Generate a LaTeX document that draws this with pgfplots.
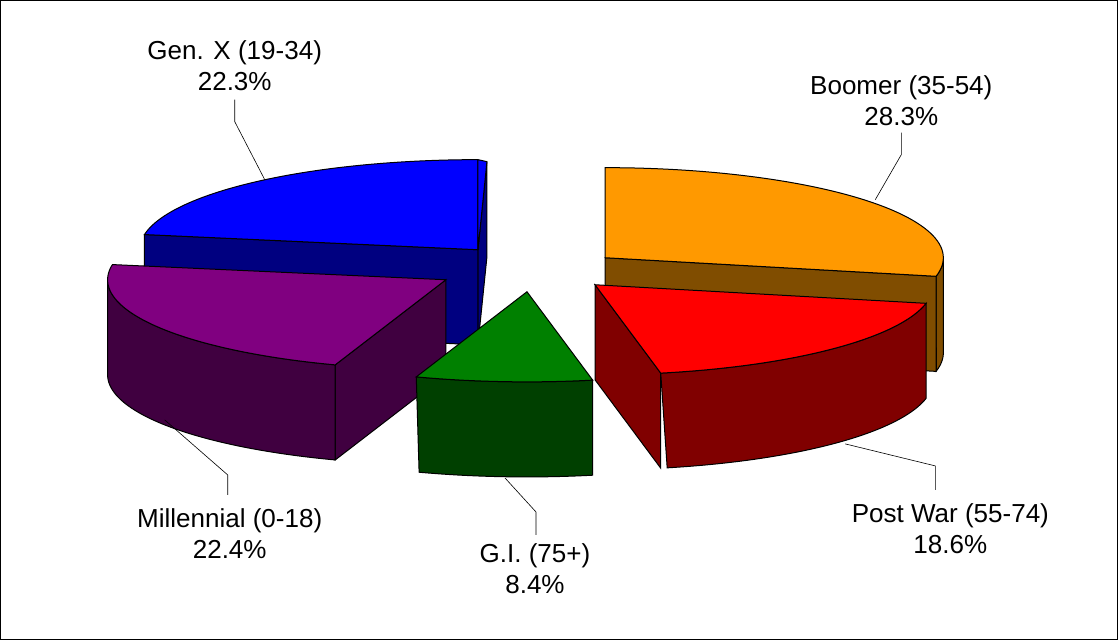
\documentclass[border=0pt]{standalone}
\usepackage{pgfplots}
\pgfplotsset{compat=1.18}
\usepackage{fontspec}
\setmainfont{Liberation Sans}
\definecolor{gxT}{RGB}{0,0,255}\definecolor{gxS}{RGB}{0,0,128}
\definecolor{boT}{RGB}{255,153,0}\definecolor{boS}{RGB}{128,77,0}
\definecolor{pwT}{RGB}{255,0,0}\definecolor{pwS}{RGB}{128,0,0}
\definecolor{giT}{RGB}{0,128,0}\definecolor{giS}{RGB}{0,64,0}
\definecolor{miT}{RGB}{128,0,128}\definecolor{miS}{RGB}{64,0,64}
\def\RX{338}\def\RY{90}\def\DD{95}
\newcommand\rwall[4]{%
 \pgfmathsetmacro\px{#1+\RX*sin(#3)}\pgfmathsetmacro\py{#2-\RY*cos(#3)}%
 \pgfmathsetmacro\pyd{\py+\DD}\pgfmathsetmacro\ayd{#2+\DD}%
 \edef\doit{\noexpand\addplot[fill=#4,draw=black,line width=1pt] coordinates {(#1,#2) (\px,\py) (\px,\pyd) (#1,\ayd)} -- cycle;}\doit}
\newcommand\owall[5]{%
 \edef\doit{\noexpand\addplot[fill=#5,draw=black,line width=1pt,domain=0:2,samples=121,variable=\noexpand\t]
 ({#1+\RX*sin(ifthenelse(\noexpand\t<=1,#3+(#4-#3)*\noexpand\t,#4-(#4-#3)*(\noexpand\t-1)))},
  {#2-\RY*cos(ifthenelse(\noexpand\t<=1,#3+(#4-#3)*\noexpand\t,#4-(#4-#3)*(\noexpand\t-1)))+ifthenelse(\noexpand\t<=1,0,\DD)}) -- cycle;}\doit}
\newcommand\topf[5]{%
 \edef\doit{\noexpand\addplot[fill=#5,draw=black,line width=1pt,domain=#3:#4,samples=60,variable=\noexpand\t]
 ({#1+\RX*sin(\noexpand\t)},{#2-\RY*cos(\noexpand\t)}) -- (axis cs:#1,#2) -- cycle;}\doit}
\begin{document}
\begin{tikzpicture}
\begin{axis}[x=1pt,y=1pt,xmin=0,xmax=1118,ymin=0,ymax=640,y dir=reverse,
 axis lines=none,clip=false,scale only axis]
\addplot[draw=black,line width=1pt] coordinates {(1,1) (1117,1) (1117,639) (1,639)} -- cycle;
% Gen X
\addplot[fill=gxS,draw=black,line width=1pt] coordinates {(478,250) (487,162) (487,257) (478,345)} -- cycle;
\rwall{478}{250}{279.7}{gxS}
\topf{478}{250}{279.7}{360}{gxT}
\addplot[fill=gxT,draw=black,line width=1pt] coordinates {(478,250) (478,160) (487,162)} -- cycle;
% Boomer
\rwall{605}{258}{0}{boS}
\owall{605}{258}{90}{101.9}{boS}
\rwall{605}{258}{101.9}{boS}
\topf{605}{258}{0}{101.9}{boT}
% Millennial
\rwall{446}{280}{199.1}{miS}
\owall{446}{280}{199.1}{270}{miS}
\topf{446}{280}{199.1}{279.7}{miT}
% Post War
\rwall{595}{285}{168.8}{pwS}
\owall{595}{285}{101.9}{168.8}{pwS}
\topf{595}{285}{101.9}{168.8}{pwT}
% G.I.
\owall{527}{292}{168.8}{199.1}{giS}
\topf{527}{292}{168.8}{199.1}{giT}
% leaders
\addplot[black,line width=0.6pt] coordinates {(235,100) (235,122) (265,180)};
\addplot[black,line width=0.6pt] coordinates {(901,133) (901,155) (875,200)};
\addplot[black,line width=0.6pt] coordinates {(935,490) (935,466) (845,444)};
\addplot[black,line width=0.6pt] coordinates {(536,535) (536,512) (505,478)};
\addplot[black,line width=0.6pt] coordinates {(228,495) (228,475) (165,420)};
\begin{scope}[every node/.style={align=center,font=\fontsize{26}{31}\selectfont}]
\node at (axis cs:235,66) {Gen. X (19-34)\\22.3\%};
\node at (axis cs:901,101) {Boomer (35-54)\\28.3\%};
\node at (axis cs:950,529) {Post War (55-74)\\18.6\%};
\node at (axis cs:535,569) {G.I. (75+)\\8.4\%};
\node at (axis cs:230,534) {Millennial (0-18)\\22.4\%};
\end{scope}
\end{axis}
\end{tikzpicture}
\end{document}
